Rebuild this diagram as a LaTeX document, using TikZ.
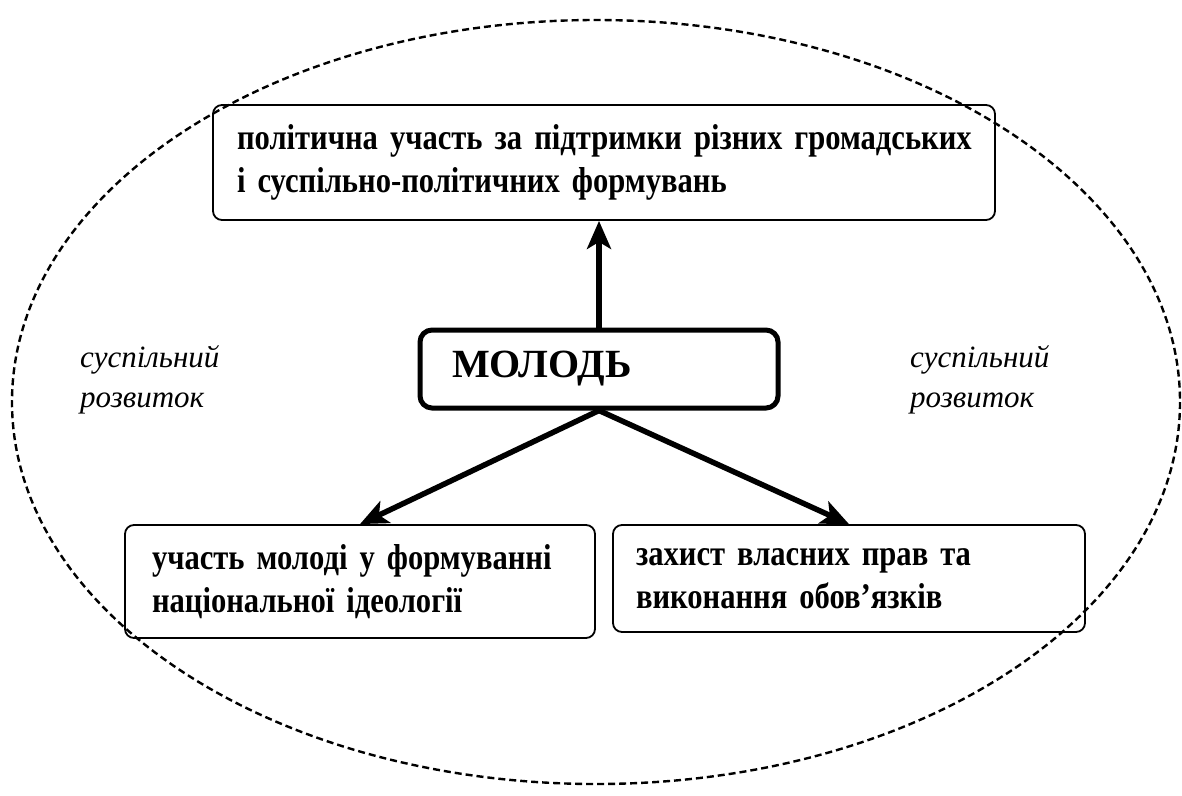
\documentclass[tikz,border=0pt]{standalone}
\usepackage{fontspec}
\setmainfont{Liberation Serif}
\newfontfamily\boxfont[FakeStretch=0.85]{Liberation Serif Bold}
\usetikzlibrary{arrows.meta}
\begin{document}
\begin{tikzpicture}[x=1pt,y=-1pt,
  box/.style={draw=black, line width=1.8pt, rounded corners=9pt, align=left,
    font=\boxfont\fontsize{36}{43}\selectfont, anchor=center, inner ysep=0pt},
  mainbox/.style={draw=black, line width=5pt, rounded corners=12pt, align=left,
    font=\bfseries\fontsize{40}{44}\selectfont, anchor=center, inner ysep=0pt},
  lbl/.style={font=\itshape\fontsize{31}{40}\selectfont, align=left, anchor=west, inner sep=0pt},
  arr/.style={line width=5.5pt, -{Stealth[length=28pt,width=24pt,inset=7pt]}},
  oval/.style={draw=black, line width=2.4pt, dash pattern=on 7pt off 4pt}
]
\useasboundingbox (0,0) rectangle (1182,795);
\draw[oval] (596,402) ellipse [x radius=584, y radius=382];

\node[box, minimum width=782pt, minimum height=115pt, text width=734pt, inner xsep=24pt] (top) at (604,162.5)
  {\mbox{політична участь за підтримки різних громадських}\\\mbox{і суспільно-політичних формувань}};
\node[mainbox, minimum width=358pt, minimum height=78pt, text width=294pt, inner xsep=32pt] (mol) at (599,369)
  {МОЛОДЬ};
\node[box, minimum width=470pt, minimum height=113pt, text width=416pt, inner xsep=27pt] (bl) at (360,581.5)
  {\mbox{участь молоді у формуванні}\\\mbox{національної ідеології}};
\node[box, minimum width=472pt, minimum height=107pt, text width=426pt, inner xsep=23pt] (br) at (849,578.5)
  {\mbox{захист власних прав та}\\\mbox{виконання обов’язків}};

\node[lbl] (ll) at (80,380) {суспільний\\розвиток};
\node[lbl] (rl) at (910,380) {суспільний\\розвиток};

\draw[arr] (mol.north) -- (mol.north |- top.south);
\draw[arr] (mol.south) -- (bl.north);
\draw[arr] (mol.south) -- (br.north);
\end{tikzpicture}
\end{document}
